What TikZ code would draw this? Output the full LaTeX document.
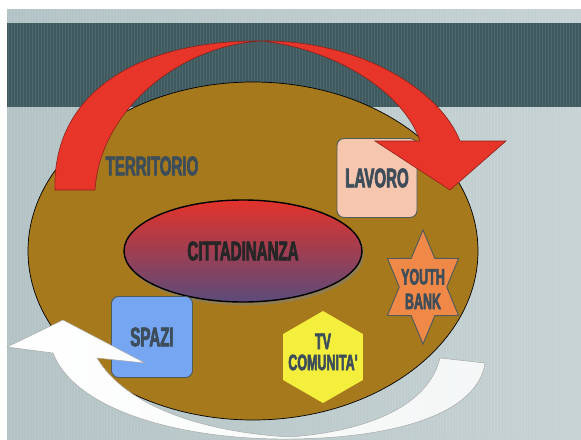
\documentclass[tikz,border=0pt]{standalone}
\usepackage{fontspec}
\newfontfamily\slidefont[FakeStretch=0.56, FakeBold=2.5, UprightFont={* Bold}, BoldFont={* Bold}]{Liberation Sans}
\usetikzlibrary{shapes.geometric}
\usetikzlibrary{shadows}

\definecolor{slidebg}{HTML}{B3C3C5}
\definecolor{slidebgr}{HTML}{C6D2D3}
\definecolor{band}{HTML}{3F5B60}
\definecolor{earth}{HTML}{A67A1C}
\definecolor{slate}{HTML}{3D4E5A}
\definecolor{arrowred}{HTML}{E8352A}
\definecolor{citytop}{HTML}{E3322A}
\definecolor{citybottom}{HTML}{5B4B7A}
\definecolor{workpink}{HTML}{F6C6AE}
\definecolor{spaceblue}{HTML}{76A6F2}
\definecolor{starorange}{HTML}{F08848}
\definecolor{tvyellow}{HTML}{F4EE3C}
\definecolor{boxline}{HTML}{4E5A5C}

\begin{document}
\begin{tikzpicture}[x=0.03cm, y=-0.03cm,
  labeltext/.style={font=\slidefont\fontsize{23}{24}\selectfont, text=slate, align=center, inner sep=0pt},
  smalltext/.style={labeltext, font=\slidefont\fontsize{19}{21}\selectfont},
  tile/.style={draw=boxline, line width=0.8pt, rounded corners=6pt, inner sep=0pt}]

\useasboundingbox (0,0) rectangle (581,439);

% slide background
\fill[white] (0,0) rectangle (581,439);
\shade[left color=slidebg, right color=slidebgr] (7,9) rectangle (581,439);
\fill[band] (7,23) rectangle (581,107);
\foreach \s in {8,11,...,581}
\draw[white, opacity=0.07, line width=0.7pt] (\s,9) -- (\s,439);

% territorio
\draw[black, line width=0.6pt, fill=earth] (253,251) ellipse [x radius=225, y radius=169];

\node[draw=black, line width=1.2pt, ellipse, top color=citytop, bottom color=citybottom,
  minimum width=7.14cm, minimum height=3.06cm, inner sep=0pt,
  drop shadow={shadow xshift=0.06cm, shadow yshift=-0.1cm, opacity=0.55},
  labeltext, text=black!85] (cittadinanza) at (243,251) {CITTADINANZA};

\node[tile, fill=workpink, minimum width=2.4cm, minimum height=2.37cm, labeltext] (lavoro) at (377,178) {LAVORO};
\node[tile, fill=spaceblue, minimum width=2.43cm, minimum height=2.43cm, labeltext] (spazi) at (152,337) {SPAZI};

\draw[boxline, line width=0.8pt, fill=starorange]
plot[samples at={0,...,11}, variable=\i]
({423+0.72*(mod(\i,2)==0 ? 57 : 33)*cos(90+30*\i)}, {287-(mod(\i,2)==0 ? 57 : 33)*sin(90+30*\i)}) -- cycle;
\node[smalltext, font=\slidefont\fontsize{19}{21}\selectfont] (youthbank) at (423,289) {YOUTH\\BANK};

\fill[tvyellow] plot[samples at={0,...,5}] ({323+46*cos(90+60*\x)}, {357-46*sin(90+60*\x)}) -- cycle;
\node[smalltext, font=\slidefont\fontsize{19}{18}\selectfont] (tv) at (323,352) {TV\\COMUNITA'};

\node[labeltext] (territorio) at (152,166) {TERRITORIO};

% white arrow
\shade[left color=white, right color=white!85!slidebg, draw=gray!70, line width=0.4pt]
(7,347) -- (63,320) -- (145,363) -- (97,358)
.. controls (125,405) and (200,432) .. (290,437)
.. controls (380,430) and (430,400) .. (440,358)
-- (485,363)
.. controls (478,412) and (400,438) .. (290,439)
.. controls (180,440) and (75,410) .. (53,353) -- cycle;

% red arrow
\draw[fill=arrowred, draw=arrowred!60!black, line width=0.5pt]
(55,190) -- (95,190)
.. controls (100,110) and (180,45) .. (262,41)
.. controls (340,50) and (405,95) .. (420,141)
-- (375,141) -- (450,190) -- (506,141) -- (460,141)
.. controls (440,90) and (360,40) .. (262,41)
.. controls (135,40) and (52,95) .. (55,190) -- cycle;

\end{tikzpicture}
\end{document}
